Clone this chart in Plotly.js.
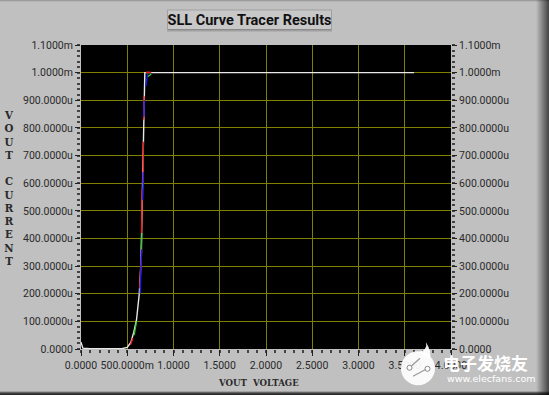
<!DOCTYPE html>
<html><head><meta charset="utf-8">
<script src="https://cdn.plot.ly/plotly-3.0.1.min.js"></script>
<style>
html,body{margin:0;padding:0;width:549px;height:395px;overflow:hidden;background:#c0c0c0}
#bg{position:absolute;left:0;top:0;width:549px;height:395px;background:
 linear-gradient(to right,rgba(0,0,0,0) 536px,rgba(0,0,0,.25) 541px,rgba(0,0,0,.65) 549px),
 linear-gradient(to bottom,#8f8f8f 0,#c0c0c0 2px,#c0c0c0 391px,#444 393px,#222 395px);}
#chart{position:absolute;left:0;top:0;width:549px;height:395px}
</style></head><body><div id="bg"></div><div id="chart"></div>
<script>
const titleText = 'SLL Curve Tracer Results';
const xTickVals = [0,0.5,1,1.5,2,2.5,3,3.5,4];
const xTickText = ['0.0000','500.0000m','1.0000','1.5000','2.0000','2.5000','3.0000','3.5000','4.0000'];
const yTickVals = [0,1e-4,2e-4,3e-4,4e-4,5e-4,6e-4,7e-4,8e-4,9e-4,1e-3,1.1e-3];
const yTickText = ['0.0000','100.0000u','200.0000u','300.0000u','400.0000u','500.0000u','600.0000u','700.0000u','800.0000u','900.0000u','1.0000m','1.1000m'];
const whiteX = [0,0.02,0.1,0.3,0.44,0.5,0.54,0.57,0.60,0.63,0.645,0.655,0.665,0.675,0.685,0.69,0.70,1,2,3,3.6];
const whiteY = [2.5e-5,3e-6,1e-6,1e-6,1e-6,6e-6,2.5e-5,6e-5,1.05e-4,2e-4,2.9e-4,4.2e-4,6e-4,7.6e-4,9.2e-4,1e-3,1e-3,1e-3,1e-3,1e-3,1e-3];
const redX = [0.535,0.56,null,0.635,0.655,null,0.655,0.662,null,0.672,0.674,null,0.678,0.682,null,0.70,0.72,0.76];
const redY = [1.5e-5,4e-5,null,2.2e-4,3.6e-4,null,4.2e-4,5.8e-4,null,6e-4,7.5e-4,null,8.3e-4,9.15e-4,null,1.001e-3,1.002e-3,1.001e-3];
const blueX = [0.64,0.655,null,0.668,0.672,null,0.68,0.683,null,0.70,0.72];
const blueY = [2e-4,3.6e-4,null,5.4e-4,6.4e-4,null,8.4e-4,9e-4,null,9.5e-4,9.95e-4];
const greenX = [0.575,0.60,null,0.652,0.658,null,0.72,0.76];
const greenY = [5e-5,1e-4,null,3.2e-4,4.2e-4,null,9.85e-4,9.95e-4];
const xTitle = 'VOUT  VOLTAGE';
const yTitle = 'V<br>O<br>U<br>T<br> <br>C<br>U<br>R<br>R<br>E<br>N<br>T';
const logoCn = '电子发烧友';
const logoEn = 'www.elecfans.com';

const W=549,H=395,L=81,R=451,T=44.5,B=348.7;
const pw=R-L,ph=B-T;
const px=v=>(v-L)/pw, py=v=>(B-v)/ph;
const tickFont={family:'Roboto,sans-serif',size:10.5,color:'#2a2a2a'};
const rect=(x0,y0,x1,y1,fill,line)=>({type:'rect',xref:'paper',yref:'paper',layer:'below',
  x0:px(x0),x1:px(x1),y0:py(y1),y1:py(y0),fillcolor:fill,line:line||{width:0}});
const tr=(x,y,c,w,ya)=>({x,y,type:'scatter',mode:'lines',line:{color:c,width:w},hoverinfo:'skip',showlegend:false,yaxis:ya||'y',connectgaps:false});
const traces=[tr(whiteX,whiteY,'#e8e8e8',1.4),tr(greenX,greenY,'#35c935',1.3),tr(redX,redY,'#f02020',1.4),tr(blueX,blueY,'#1a1aee',1.4)];
traces.push({x:[0],y:[0],yaxis:'y2',type:'scatter',mode:'lines',showlegend:false,hoverinfo:'skip'});
const minorY={dtick:2e-5,tick0:0,ticks:'outside',ticklen:3,tickwidth:2,tickcolor:'#444',showgrid:false};
const baseAxis={showline:false,zeroline:false,showgrid:true,gridcolor:'#808000',gridwidth:1,ticks:'outside',ticklen:5,tickwidth:1,tickcolor:'#222',tickfont:tickFont,tickmode:'array',tickangle:0};
const layout={
 width:W,height:H,margin:{l:L,r:W-R,t:T,b:H-B,pad:0},
 paper_bgcolor:'rgba(0,0,0,0)',plot_bgcolor:'#000',showlegend:false,
 title:{text:'<b>'+titleText+'</b>',font:{family:'Roboto,sans-serif',size:14.5,color:'#111'},x:249.5/W,xanchor:'center',y:1-20/H,yanchor:'middle'},
 xaxis:Object.assign({},baseAxis,{range:[0,4],tickvals:xTickVals,ticktext:xTickText,ticklen:6,
   minor:{dtick:0.1,tick0:0,ticks:'outside',ticklen:3,tickwidth:2,tickcolor:'#444',showgrid:false}}),
 yaxis:Object.assign({},baseAxis,{range:[0,1.1e-3],tickvals:yTickVals,ticktext:yTickText,minor:minorY}),
 yaxis2:Object.assign({},baseAxis,{range:[0,1.1e-3],overlaying:'y',side:'right',showgrid:false,tickvals:yTickVals,ticktext:yTickText,minor:minorY}),
 shapes:[
  rect(167,9,332,31,'#a0a0a0'),
  rect(168,10,331,30,'#c8c8c8'),
  rect(168,28.5,331,30,'#8a8a8a'),
  {type:'circle',xref:'paper',yref:'paper',layer:'above',x0:px(401),x1:px(435),y0:py(385),y1:py(351),fillcolor:'rgba(255,255,255,0.92)',line:{width:0}},
  {type:'path',xref:'paper',yref:'paper',layer:'above',fillcolor:'rgba(255,255,255,0.92)',line:{width:0},
   path:`M ${px(418)} ${py(352)} Q ${px(428)} ${py(350)} ${px(426)} ${py(342)} Q ${px(432)} ${py(352)} ${px(430)} ${py(358)} Z`},
  {type:'path',xref:'paper',yref:'paper',layer:'above',line:{color:'#9a9a9a',width:1.2},
   path:`M ${px(410)} ${py(367)} L ${px(420)} ${py(358)} M ${px(413)} ${py(376)} L ${px(426)} ${py(369)}`},
  {type:'circle',xref:'paper',yref:'paper',layer:'above',x0:px(407),x1:px(412),y0:py(370),y1:py(365),fillcolor:'#fff',line:{color:'#888',width:1}},
  {type:'circle',xref:'paper',yref:'paper',layer:'above',x0:px(425),x1:px(430),y0:py(371),y1:py(366),fillcolor:'#fff',line:{color:'#888',width:1}}
 ],
 annotations:[
  {text:'<b>'+xTitle+'</b>',xref:'paper',yref:'paper',x:px(258),y:py(383),xanchor:'center',yanchor:'middle',showarrow:false,font:{family:'"DejaVu Serif",serif',size:8.6,color:'#2a2a2a'}},
  {text:'<b>'+yTitle+'</b>',xref:'paper',yref:'paper',x:px(9),y:py(188),xanchor:'center',yanchor:'middle',showarrow:false,align:'center',font:{family:'"DejaVu Serif",serif',size:10.2,color:'#2a2a2a'}},
  {text:'<b>'+logoCn+'</b>',xref:'paper',yref:'paper',x:px(485),y:py(362),xanchor:'center',yanchor:'middle',showarrow:false,font:{family:'"Noto Sans CJK SC",sans-serif',size:17,color:'#ffffff'}},
  {text:logoEn,xref:'paper',yref:'paper',x:px(491),y:py(378),xanchor:'center',yanchor:'middle',showarrow:false,font:{family:'"DejaVu Sans",sans-serif',size:9.5,color:'#ffffff'}}
 ]
};
Plotly.newPlot('chart',traces,layout,{displayModeBar:false,staticPlot:true});
</script></body></html>
